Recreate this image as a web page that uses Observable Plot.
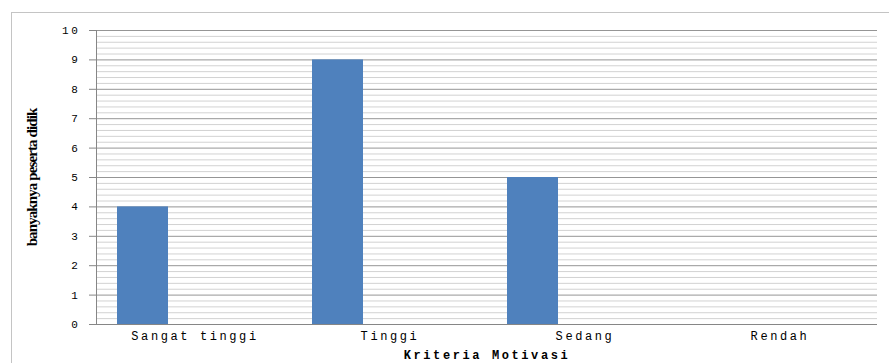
<!DOCTYPE html>
<html>
<head>
<meta charset="utf-8">
<script src="https://cdn.jsdelivr.net/npm/d3@7"></script>
<script src="https://cdn.jsdelivr.net/npm/@observablehq/plot@0.6"></script>
<style>
  html, body { margin: 0; padding: 0; background: #fff; }
  #chart { position: relative; width: 889px; height: 363px; overflow: hidden; }
  #chart .box { position: absolute; left: 11px; top: 12px; width: 900px; height: 400px;
    border-left: 1.5px solid #c4c4c4; border-top: 1.5px solid #c4c4c4; }
  #chart svg { position: absolute; left: 0; top: 0; }
  g[aria-label="x-axis tick label"], g[aria-label="y-axis tick label"] { letter-spacing: 2.6px; }
  g[aria-label="x-axis label"] { letter-spacing: 2.6px; font-weight: bold; }
  g[aria-label="y-axis label"] { font-family: "Liberation Serif", serif; font-size: 15px; font-weight: bold; letter-spacing: -0.9px; }
</style>
</head>
<body>
<div id="chart"><div class="box"></div></div>
<script>
// Jumlah peserta didik per kriteria motivasi
const categories = ["Sangat tinggi", "Tinggi", "Sedang", "Rendah"];
const counts = [4, 9, 5, 0];
const yTicks = [0, 1, 2, 3, 4, 5, 6, 7, 8, 9, 10];
const yTitle = "banyaknya peserta didik";
const xTitle = "Kriteria Motivasi";

const data = categories.map((kategori, i) => ({kategori, jumlah: counts[i]}));

// minor grid every 0.2, major grid on whole numbers
const minorTicks = d3.ticks(0, 10, 50).filter(v => !Number.isInteger(Math.round(v * 1000) / 1000));

const chart = Plot.plot({
  width: 889,
  height: 363,
  marginLeft: 96,
  marginRight: 12,
  marginTop: 30,
  marginBottom: 39,
  style: {fontFamily: "'Liberation Mono', monospace", background: "transparent", color: "#000"},
  x: {domain: categories, padding: 0, label: null},
  y: {domain: [0, 10], label: null},
  marks: [
    Plot.gridY(minorTicks, {stroke: "#d2d2d2", strokeOpacity: 1}),
    Plot.gridY(yTicks, {stroke: "#959595", strokeOpacity: 1}),
    Plot.barY(data, {x: "kategori", y: "jumlah", fill: "#4F81BD", insetLeft: 20, insetRight: 124}),
    Plot.frame({anchor: "left", stroke: "#868686"}),
    Plot.ruleY([0], {stroke: "#868686"}),
    Plot.axisY(yTicks, {
      tickSize: 7, tickPadding: 9, stroke: "#868686", fontSize: 11,
      label: yTitle, labelAnchor: "center", labelArrow: "none", labelOffset: 70
    }),
    Plot.axisX({
      tickSize: 0, tickPadding: 7, fontSize: 12,
      label: xTitle, labelAnchor: "center", labelArrow: "none", labelOffset: 34
    })
  ]
});

document.getElementById("chart").appendChild(chart);
</script>
</body>
</html>
